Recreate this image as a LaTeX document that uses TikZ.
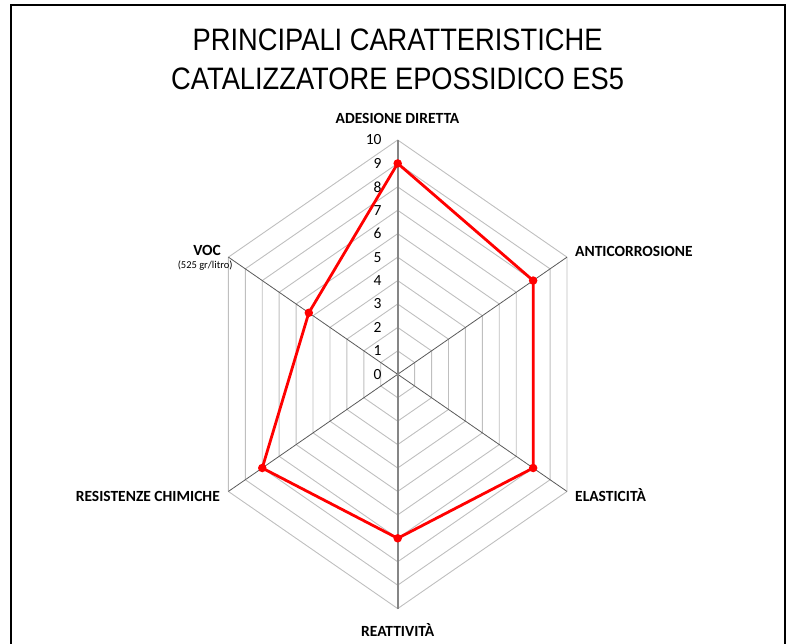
\documentclass[tikz,border=0pt]{standalone}
\usepackage{fontspec}
\setmainfont{Carlito}
\newfontfamily\titlefont[FakeStretch=0.88]{Liberation Sans}

\definecolor{ringgray}{HTML}{BFBFBF}
\definecolor{spokegray}{HTML}{595959}
\definecolor{axisgray}{HTML}{868686}

\begin{document}
\begin{tikzpicture}[x=1pt, y=1pt,
    ring/.style={ringgray, line width=0.9pt},
    spoke/.style={spokegray, line width=0.8pt},
    axisline/.style={axisgray, line width=1.8pt},
    series/.style={red, line width=2.8pt, line join=round},
    dot/.style={circle, fill=red, inner sep=0pt, minimum size=8.5pt},
    axislabel/.style={font=\fontsize{15.5}{18}\selectfont\bfseries, inner sep=0pt},
    ticklabel/.style={font=\fontsize{15.5}{18}\selectfont, inner sep=0pt, anchor=east, xshift=-16pt},
    titleline/.style={font=\titlefont\fontsize{31}{37}\selectfont, inner sep=0pt, anchor=base}]
    \useasboundingbox (0,0) rectangle (790,644);
    \draw[line width=2.4pt] (11,-10) rectangle (785,639);
    \node[titleline] (title1) at (397.6,593.3){PRINCIPALI CARATTERISTICHE};
    \node[titleline] (title2) at (397.6,554.7){CATALIZZATORE EPOSSIDICO ES5};
    \begin{scope}[shift={(397.7,269.7)}, x=19.55pt, y=23.43pt]
      % griglia
      \foreach \r in {1,...,10}
        \draw[ring] (90:\r) -- (30:\r) -- (-30:\r) -- (-90:\r) -- (-150:\r) -- (150:\r) -- cycle;
      \draw[spoke] (150:10) -- (-30:10);
      \draw[spoke] (30:10) -- (-150:10);
      \draw[axisline] (-90:10) -- (90:10);
      \foreach \k in {0,...,10}
        \node[ticklabel] (tick\k) at (90:\k){\k};
      % valori
      \coordinate (ades) at (90:9);
      \coordinate (anti) at (30:8);
      \coordinate (elas) at (-30:8);
      \coordinate (reat) at (-90:7);
      \coordinate (resi) at (-150:8);
      \coordinate (voc) at (150:5.25);
      \draw[series] (ades) -- (anti) -- (elas) -- (reat) -- (resi) -- (voc) -- cycle;
      \foreach \p in {ades,anti,elas,reat,resi,voc}
        \node[dot] (dot\p) at (\p){};
    \end{scope}
    \node[axislabel, anchor=base] (Lades) at (397.5,520.7){ADESIONE DIRETTA};
    \node[axislabel, anchor=base west] (Lanti) at (575,387.3){ANTICORROSIONE};
    \node[axislabel, anchor=base west] (Lelas) at (575,142.3){ELASTICITÀ};
    \node[axislabel, anchor=base] (Lreat) at (397.7,7.3){REATTIVITÀ};
    \node[axislabel, anchor=base east] (Lresi) at (220,142.3){RESISTENZE CHIMICHE};
    \node[axislabel, anchor=base east] (Lvoc) at (221,388.3){VOC};
    \node[font=\fontsize{10.5}{12}\selectfont, inner sep=0pt, anchor=base east] (Lvocunit) at (232.7,375.5){(525 gr/litro)};
  \end{tikzpicture}
\end{document}
